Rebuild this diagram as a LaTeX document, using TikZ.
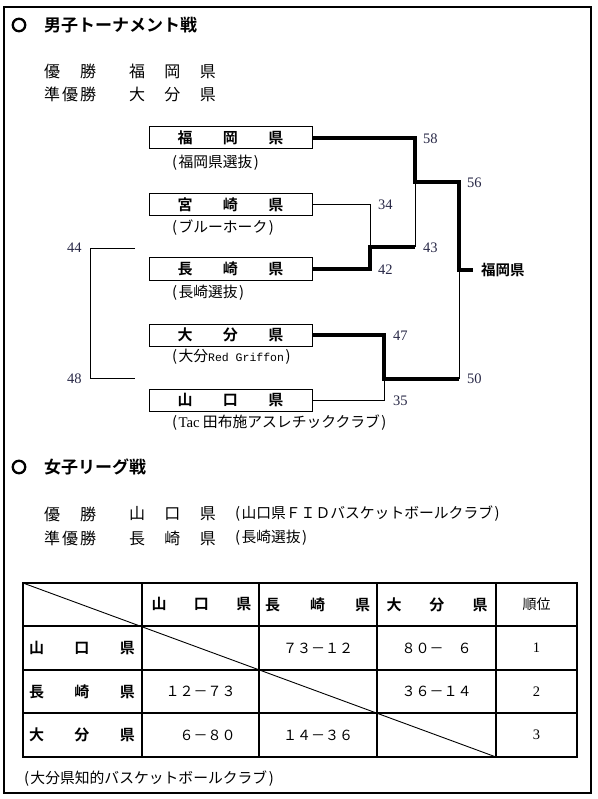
\documentclass[tikz,border=0pt]{standalone}
\usepackage{fontspec}
\setmainfont{Liberation Serif}
\setmonofont{Liberation Mono}
\newfontfamily\jp{Noto Sans CJK JP}[BoldFont={Noto Sans CJK JP Bold}]
\definecolor{numc}{RGB}{40,40,70}
\newcommand{\spr}[2]{\makebox[#1][s]{#2}}
\newcommand{\lp}{(\kern1.5pt}
\newcommand{\rp}{\kern1.5pt)}
\begin{document}
\begin{tikzpicture}[x=1pt,y=-1pt,
  every node/.style={inner sep=0pt,outer sep=0pt},
  hdr/.style={anchor=west,font=\jp\bfseries\fontsize{17}{18}\selectfont},
  bullet/.style={circle,draw,line width=2.3pt,minimum size=12.5pt},
  big/.style={anchor=west,font=\jp\fontsize{16}{18}\selectfont},
  sub/.style={anchor=west,font=\jp\fontsize{14.8}{16}\selectfont},
  num/.style={anchor=west,text=numc,font=\fontsize{14.5}{15}\selectfont},
  team/.style={draw,line width=1pt,minimum width=163pt,minimum height=22pt,font=\jp\bfseries\fontsize{15}{16}\selectfont},
  lose/.style={line width=0.9pt},
  win/.style={line width=4pt,line join=miter},
  cell/.style={font=\jp\fontsize{14}{15}\selectfont},
  rowh/.style={font=\jp\bfseries\fontsize{15}{16}\selectfont},
  rank/.style={font=\fontsize{14.5}{15}\selectfont},
  tabline/.style={line width=1.1pt}
]
\useasboundingbox (0,0) rectangle (597,799);
\draw[line width=1.5pt] (4,7) rectangle (591,793);

% ---- men's header ----
\node[bullet] (c1) at (19,25) {};
\node[hdr] (h1) at (44,25) {男子トーナメント戦};
\node[big] (m1a) at (44,71) {\spr{52pt}{優\hfill 勝}};
\node[big] (m1b) at (129,71) {\spr{87pt}{福\hfill 岡\hfill 県}};
\node[big] (m2a) at (44,94) {\spr{52pt}{準\hfill 優\hfill 勝}};
\node[big] (m2b) at (129,94) {\spr{87pt}{大\hfill 分\hfill 県}};

% ---- teams ----
\node[team] (fuk) at (230.5,138) {\spr{106pt}{福\hfill 岡\hfill 県}};
\node[team] (miy) at (230.5,204.5) {\spr{106pt}{宮\hfill 崎\hfill 県}};
\node[team] (nag) at (230.5,269) {\spr{106pt}{長\hfill 崎\hfill 県}};
\node[team] (oit) at (230.5,335) {\spr{106pt}{大\hfill 分\hfill 県}};
\node[team] (yam) at (230.5,400) {\spr{106pt}{山\hfill 口\hfill 県}};

\node[sub] (fuks) at (172,163) {\lp 福岡県選抜\rp};
\node[sub] (miys) at (172,228) {\lp ブルーホーク\rp};
\node[sub] (nags) at (172,293) {\lp 長崎選抜\rp};
\node[sub] (oits) at (172,357) {\lp 大分{\ttfamily\fontsize{11.5}{12}\selectfont Red Griffon}\rp};
\node[sub] (yams) at (172,423) {\lp{\rmfamily Tac} 田布施アスレチッククラブ\rp};

% ---- bracket junctions ----
\coordinate (jA) at (370,247);
\coordinate (jAt) at (370,204.5);
\coordinate (jAb) at (370,269);
\coordinate (jB) at (415,182);
\coordinate (jBt) at (415,138);
\coordinate (jBb) at (415,247);
\coordinate (jF) at (459,270);
\coordinate (jFt) at (459,182);
\coordinate (jFb) at (459,379);
\coordinate (jC) at (384,379);
\coordinate (jCt) at (384,335);
\coordinate (jCb) at (384,400);
\coordinate (fin) at (473,270);

\draw[lose] (miy.east) -- (jAt) -- (jA);
\draw[lose] (jBb) -- (jB);
\draw[lose] (yam.east) -- (jCb) -- (jC);
\draw[lose] (jF) -- (jFb);
\draw[win] (nag.east) -- (jAb) -- (jA) -- (jBb);
\draw[win] (oit.east) -- (jCt) -- (jC) -- (jFb);
\draw[win] (fuk.east) -- (jBt) -- (jB) -- (jFt) -- (jF) -- (fin);

\node[anchor=west,font=\jp\bfseries\fontsize{14.5}{16}\selectfont] (champ) at (481,270) {福岡県};

% ---- scores ----
\node[num] (n58) at (423,139) {58};
\node[num] (n56) at (467,183) {56};
\node[num] (n34) at (378,205) {34};
\node[num] (n43) at (423,248) {43};
\node[num] (n42) at (378,270) {42};
\node[num] (n47) at (393,336) {47};
\node[num] (n50) at (467,379) {50};
\node[num] (n35) at (393,401) {35};
\node[num] (n44) at (67,248) {44};
\node[num] (n48) at (67,379) {48};

\coordinate (l1) at (135,248);
\coordinate (l2) at (90,248);
\coordinate (l3) at (90,378);
\coordinate (l4) at (135,378);
\draw[lose] (l1) -- (l2) -- (l3) -- (l4);

% ---- women's header ----
\node[bullet] (c2) at (19,467) {};
\node[hdr] (h2) at (44,467) {女子リーグ戦};
\node[big] (w1a) at (44,514) {\spr{52pt}{優\hfill 勝}};
\node[big] (w1b) at (129,514) {\spr{87pt}{山\hfill 口\hfill 県}};
\node[sub] (w1c) at (235,514) {\lp 山口県ＦＩＤバスケットボールクラブ\rp};
\node[big] (w2a) at (44,538) {\spr{52pt}{準\hfill 優\hfill 勝}};
\node[big] (w2b) at (129,538) {\spr{87pt}{長\hfill 崎\hfill 県}};
\node[sub] (w2c) at (235,538) {\lp 長崎選抜\rp};

% ---- table ----
\draw[tabline] (23,583) rectangle (577,757);
\foreach \xx in {142,259,377,496} \draw[tabline] (\xx,583) -- (\xx,757);
\foreach \yy in {626,670,713} \draw[tabline] (23,\yy) -- (577,\yy);
\draw[line width=0.9pt] (23,583) -- (496,757);

\node[rowh] (t01) at (201.5,604.5) {\spr{100pt}{山\hfill 口\hfill 県}};
\node[rowh] (t02) at (317.5,604.5) {\spr{105pt}{長\hfill 崎\hfill 県}};
\node[rowh] (t03) at (437,604.5) {\spr{101pt}{大\hfill 分\hfill 県}};
\node[cell] (t04) at (536.5,604.5) {順位};

\node[rowh] (r1) at (82,648) {\spr{106pt}{山\hfill 口\hfill 県}};
\node[rowh] (r2) at (82,691.5) {\spr{106pt}{長\hfill 崎\hfill 県}};
\node[rowh] (r3) at (82,735) {\spr{106pt}{大\hfill 分\hfill 県}};

\node[cell] (s12) at (318,648) {７３－１２};
\node[cell] (s13) at (436.5,648) {８０－　６};
\node[cell] (s21) at (200.5,691.5) {１２－７３};
\node[cell] (s23) at (436.5,691.5) {３６－１４};
\node[cell] (s31) at (200.5,735) {　６－８０};
\node[cell] (s32) at (318,735) {１４－３６};

\node[rank] (k1) at (536.5,648) {1};
\node[rank] (k2) at (536.5,691.5) {2};
\node[rank] (k3) at (536.5,735) {3};

\node[sub] (cap) at (24,779) {\lp 大分県知的バスケットボールクラブ\rp};
\end{tikzpicture}
\end{document}
